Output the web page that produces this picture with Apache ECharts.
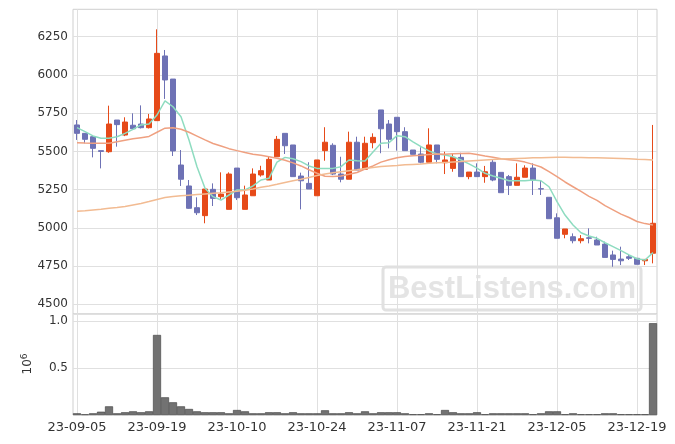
<!DOCTYPE html>
<html>
<head>
<meta charset="utf-8">
<script src="https://cdn.jsdelivr.net/npm/echarts@6/dist/echarts.min.js"></script>
<style>html,body{margin:0;padding:0;background:#fff}#c{width:675px;height:444px}</style>
</head>
<body>
<div id="c"></div>
<script>
const dates = ['23-09-05','23-09-06','23-09-07','23-09-08','23-09-11','23-09-12','23-09-13','23-09-14','23-09-15','23-09-18','23-09-19','23-09-20','23-09-21','23-09-22','23-09-25','23-09-26','23-09-27',
'23-10-04','23-10-05','23-10-06','23-10-10','23-10-11','23-10-12','23-10-13','23-10-16','23-10-17','23-10-18','23-10-19','23-10-20','23-10-23','23-10-24','23-10-25','23-10-26','23-10-27','23-10-30','23-10-31',
'23-11-01','23-11-02','23-11-03','23-11-06','23-11-07','23-11-08','23-11-09','23-11-10','23-11-13','23-11-14','23-11-15','23-11-16','23-11-17','23-11-20','23-11-21','23-11-22','23-11-23','23-11-24','23-11-27','23-11-28','23-11-29','23-11-30',
'23-12-01','23-12-04','23-12-05','23-12-06','23-12-07','23-12-08','23-12-11','23-12-12','23-12-13','23-12-14','23-12-15','23-12-18','23-12-19','23-12-20','23-12-21'];

const tickDates = ['23-09-05','23-09-19','23-10-10','23-10-24','23-11-07','23-11-21','23-12-05','23-12-19'];

const opens  = [5673,5618,5596,5505,5498,5705,5607,5671,5679,5655,5701,6124,5973,5411,5274,5132,5080,5252,5204,5121,5391,5121,5210,5346,5313,5465,5618,5542,5339,5291,5210,5505,5540,5352,5318,5560,5383,5557,5771,5679,5723,5629,5509,5483,5429,5542,5426,5389,5461,5335,5365,5335,5429,5363,5335,5278,5331,5391,5256,5200,5066,4958,4942,4916,4935,4921,4894,4823,4796,4811,4801,4785,4834];
const closes = [5618,5579,5520,5500,5679,5675,5692,5648,5655,5712,6141,5967,5503,5318,5128,5099,5254,5193,5221,5352,5197,5215,5352,5374,5448,5579,5537,5335,5308,5254,5444,5560,5352,5318,5560,5378,5553,5592,5648,5579,5629,5505,5481,5429,5542,5448,5444,5461,5335,5365,5335,5367,5313,5230,5278,5331,5391,5311,5254,5060,4932,4993,4916,4929,4932,4888,4807,4794,4785,4801,4762,4794,5030];
const lows   = [5575,5553,5461,5389,5491,5531,5600,5645,5650,5650,5700,5843,5470,5274,5125,5084,5030,5143,5182,5121,5182,5121,5210,5335,5313,5465,5483,5335,5121,5254,5210,5439,5345,5298,5318,5378,5383,5520,5488,5520,5505,5505,5481,5422,5429,5422,5352,5367,5335,5318,5335,5295,5305,5230,5215,5278,5331,5215,5215,5060,4932,4932,4899,4899,4899,4888,4807,4746,4757,4790,4762,4757,4768];
const highs  = [5705,5620,5607,5505,5799,5705,5723,5749,5801,5745,6298,6163,5973,5509,5313,5200,5254,5291,5363,5363,5391,5276,5389,5406,5465,5601,5618,5542,5361,5429,5444,5658,5553,5465,5629,5596,5596,5618,5771,5705,5723,5658,5509,5527,5651,5542,5498,5483,5491,5365,5422,5405,5444,5363,5346,5422,5409,5422,5313,5200,5095,4993,4964,4953,4997,4942,4910,4851,4877,4827,4801,4794,5673];

const ma5  = [5655,5629,5601,5586,5586,5596,5618,5644,5673,5679,5738,5830,5792,5727,5575,5400,5259,5204,5182,5215,5248,5248,5274,5313,5324,5430,5461,5452,5433,5405,5389,5389,5389,5400,5444,5439,5437,5496,5553,5557,5603,5596,5563,5531,5503,5483,5476,5465,5444,5418,5391,5357,5339,5324,5308,5308,5308,5313,5308,5269,5171,5084,5019,4968,4947,4932,4903,4877,4851,4823,4798,4790,4838];
const ma20 = [5557,5555,5554,5553,5553,5563,5573,5582,5590,5598,5625,5652,5655,5645,5625,5600,5575,5552,5535,5518,5505,5493,5482,5475,5465,5455,5442,5425,5405,5380,5357,5338,5336,5339,5350,5362,5385,5405,5430,5445,5458,5466,5472,5475,5480,5483,5482,5485,5487,5488,5480,5470,5462,5452,5446,5440,5430,5415,5398,5368,5335,5300,5269,5238,5206,5180,5145,5118,5090,5068,5042,5028,5019];
const ma60 = [5108,5112,5117,5122,5128,5133,5140,5150,5160,5172,5186,5198,5205,5210,5214,5218,5222,5226,5230,5235,5240,5246,5254,5265,5274,5285,5297,5308,5318,5330,5342,5352,5360,5367,5374,5380,5388,5395,5401,5405,5408,5412,5415,5418,5422,5425,5428,5431,5434,5438,5441,5444,5447,5450,5452,5454,5456,5458,5459,5460,5461,5461,5460,5460,5459,5458,5457,5456,5454,5452,5449,5447,5444];

const volumes = [18000,7000,18000,35000,92000,18000,29000,39000,29000,39000,851000,188000,135000,92000,64000,39000,29000,29000,29000,18000,53000,39000,18000,18000,29000,29000,18000,29000,18000,18000,18000,50000,18000,18000,29000,18000,39000,18000,29000,29000,29000,18000,8000,8000,18000,8000,53000,29000,18000,18000,29000,8000,18000,18000,18000,18000,18000,8000,18000,39000,39000,8000,18000,8000,8000,8000,18000,18000,8000,8000,8000,8000,976000];

const priceTicks = [4500, 6250, 250];
const volTicks = [500000, 1000000];

const UP = '#e64a19', DOWN = '#6e72b5';
const GRID = '#e0e0e0', FRAME = '#cfcfcf', TXT = '#333';
const FONT = 'DejaVu Sans';

const candles = dates.map((d, i) => [opens[i], closes[i], lows[i], highs[i]]);

const chart = echarts.init(document.getElementById('c'), null, {renderer: 'canvas'});
const L = 73, R = 18;
const catAxis = (gi, extra) => Object.assign({
  type: 'category', gridIndex: gi, data: dates, boundaryGap: true,
  axisLine: {show: false}, axisTick: {show: false},
  axisLabel: {show: false, interval: 9},
  splitLine: {show: false}
}, extra);

const vGrid = {
  silent: true, z: 1, symbol: ['none', 'none'], label: {show: false},
  lineStyle: {color: GRID, width: 1, type: 'solid'},
  emphasis: {disabled: true},
  data: tickDates.map(d => ({xAxis: d}))
};

chart.setOption({
  animation: false,
  backgroundColor: '#fff',
  textStyle: {fontFamily: FONT},
  grid: [
    {left: L, right: R, top: 9.3, height: 304.7, show: true, borderColor: FRAME, borderWidth: 1, backgroundColor: 'transparent'},
    {left: L, right: R, top: 36.7, height: 267.6, show: false},
    {left: L, right: R, top: 314, height: 101, show: true, borderColor: FRAME, borderWidth: 1, backgroundColor: 'transparent'}
  ],
  xAxis: [
    catAxis(0),
    catAxis(1, {show: false}),
    catAxis(2, {
      axisLabel: {show: true, interval: 9, color: TXT, fontSize: 13, fontFamily: FONT, margin: 6}
    })
  ],
  yAxis: [
    {type: 'value', gridIndex: 0, min: 4437, max: 6429, show: false, scale: true},
    {type: 'value', gridIndex: 1, min: priceTicks[0], max: priceTicks[1], interval: priceTicks[2],
      axisLine: {show: false}, axisTick: {show: false},
      axisLabel: {color: TXT, fontSize: 12, fontFamily: FONT, margin: 5, formatter: v => String(v)},
      splitLine: {show: true, lineStyle: {color: GRID, width: 1}}},
    {type: 'value', gridIndex: 2, min: 0, max: 1074000, interval: 500000,
      axisLine: {show: false}, axisTick: {show: false},
      axisLabel: {color: TXT, fontSize: 12, fontFamily: FONT, margin: 5,
        formatter: v => volTicks.indexOf(v) >= 0 ? (v / 1e6).toFixed(1) : ''},
      splitLine: {show: true, lineStyle: {color: GRID, width: 1}}}
  ],
  graphic: [
    {type: 'group', z: 1, children: [
      {type: 'rect', shape: {x: 383, y: 267, width: 258, height: 43, r: 3},
        style: {fill: 'rgba(0,0,0,0)', stroke: 'rgba(205,205,205,0.6)', lineWidth: 3}},
      {type: 'text', x: 512, y: 289,
        style: {text: 'BestListens.com', font: 'bold 31px "Liberation Sans"', fill: 'rgba(205,205,205,0.55)',
          textAlign: 'center', textVerticalAlign: 'middle'}}
    ]},
    {type: 'text', x: 28, y: 364, rotation: Math.PI / 2,
      style: {text: '{b|10}{s|6}', rich: {b: {fontSize: 12, fontFamily: FONT, fill: TXT}, s: {fontSize: 9, fontFamily: FONT, fill: TXT, verticalAlign: 'top', padding: [0,0,6,0]}},
        textAlign: 'center', textVerticalAlign: 'middle'}}
  ],
  series: [
    {type: 'line', xAxisIndex: 0, yAxisIndex: 0, data: [], z: 1, markLine: vGrid},
    {type: 'line', xAxisIndex: 2, yAxisIndex: 2, data: [], z: 1, markLine: vGrid},
    {type: 'candlestick', xAxisIndex: 0, yAxisIndex: 0, data: candles, barWidth: 6, z: 3,
      itemStyle: {color: UP, color0: DOWN, borderColor: UP, borderColor0: DOWN, borderWidth: 1}},
    {type: 'line', xAxisIndex: 0, yAxisIndex: 0, data: ma5, symbol: 'none', smooth: false, z: 4,
      lineStyle: {color: '#8edcc0', width: 1.5}},
    {type: 'line', xAxisIndex: 0, yAxisIndex: 0, data: ma20, symbol: 'none', z: 4,
      lineStyle: {color: '#efa080', width: 1.5}},
    {type: 'line', xAxisIndex: 0, yAxisIndex: 0, data: ma60, symbol: 'none', z: 4,
      lineStyle: {color: '#f2bb92', width: 1.5}},
    {type: 'bar', xAxisIndex: 2, yAxisIndex: 2, data: volumes, barWidth: '100%', z: 3,
      itemStyle: {color: '#727272', borderColor: '#3c3c3c', borderWidth: 0.6}}
  ]
});
</script>
</body>
</html>
